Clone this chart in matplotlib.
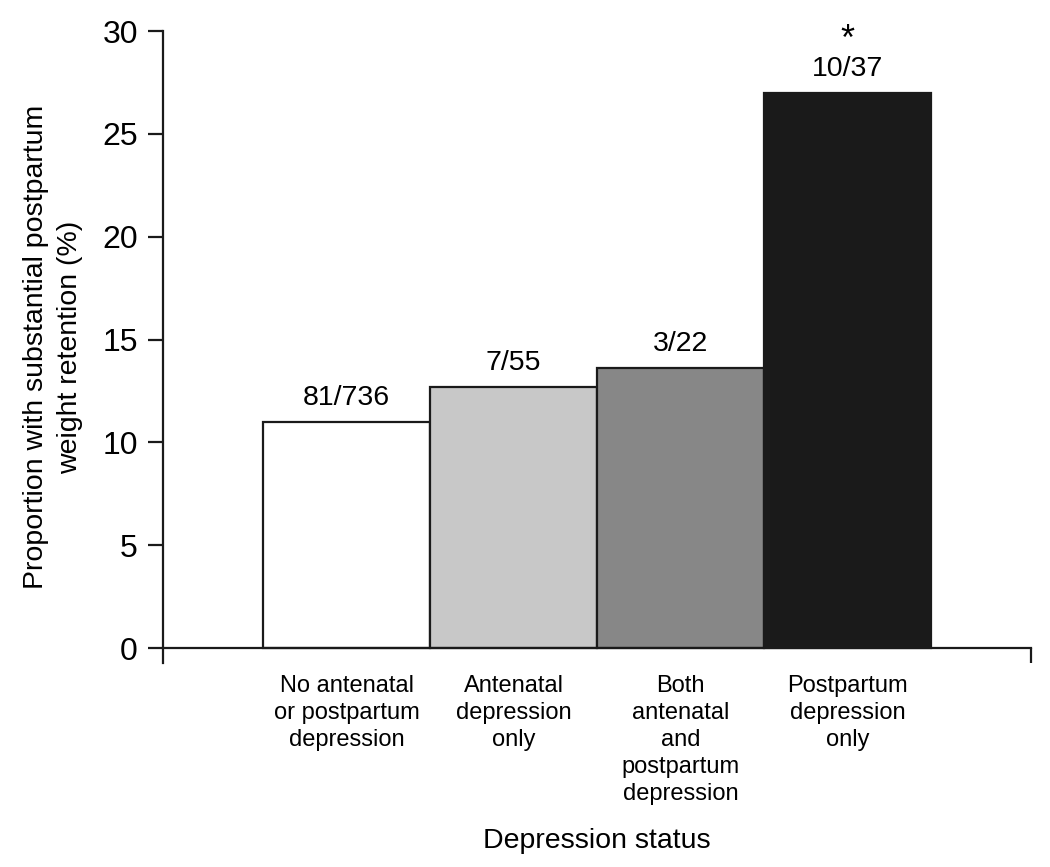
import matplotlib
matplotlib.use("Agg")
import matplotlib.pyplot as plt

plt.rcParams['font.family'] = ['Liberation Sans', 'DejaVu Sans']

categories = ["No antenatal\nor postpartum\ndepression",
              "Antenatal\ndepression\nonly",
              "Both\nantenatal\nand\npostpartum\ndepression",
              "Postpartum\ndepression\nonly"]
values = [11.0, 12.7, 13.6, 27.0]
counts = ["81/736", "7/55", "3/22", "10/37"]
stars = ["", "", "", "*"]
colors = ["#ffffff", "#c8c8c8", "#878787", "#1a1a1a"]
yticks = [0, 5, 10, 15, 20, 25, 30]

fig = plt.figure(figsize=(10.5, 8.67), dpi=100)
ax = fig.add_axes([0.1552, 0.2348, 0.8268, 0.7294])

x = list(range(len(values)))
ax.bar(x, values, width=1.0, color=colors, edgecolor="#1a1a1a", linewidth=1.6, zorder=2)

for xi, v, c, s in zip(x, values, counts, stars):
    ax.annotate(c, (xi, v), xytext=(0, 8), textcoords="offset points",
                ha="center", va="bottom", fontsize=20.5)
    if s:
        ax.annotate(s, (xi, v), xytext=(0, 25), textcoords="offset points",
                    ha="center", va="bottom", fontsize=26)

ax.set_xlim(-1.1, 4.1)
ax.set_ylim(-0.75, 30)

ax.spines["top"].set_visible(False)
ax.spines["right"].set_visible(False)
ax.spines["bottom"].set_position(("data", 0))
ax.spines["left"].set_bounds(-0.75, 30)
for sp in ("left", "bottom"):
    ax.spines[sp].set_linewidth(1.6)
    ax.spines[sp].set_color("#1a1a1a")

# small downward tick at right end of x axis
ax.plot([4.1, 4.1], [0, -0.75], color="#1a1a1a", lw=1.6, clip_on=False, solid_capstyle="butt")

ax.set_yticks(yticks)
ax.set_yticklabels([str(t) for t in yticks], fontsize=23)
ax.tick_params(axis="y", direction="out", length=11, width=1.6, color="#1a1a1a", pad=7)
ax.set_xticks([])

for xi, cat in zip(x, categories):
    ax.text(xi, -1.3, cat, ha="center", va="top", fontsize=17, linespacing=1.3)

ax.text(1.5, -9.4, "Depression status", ha="center", va="center", fontsize=20.5)
ax.set_ylabel("Proportion with substantial postpartum\nweight retention (%)", fontsize=20.5,
              labelpad=14, linespacing=1.4)

fig.savefig("out.png", dpi=100)
